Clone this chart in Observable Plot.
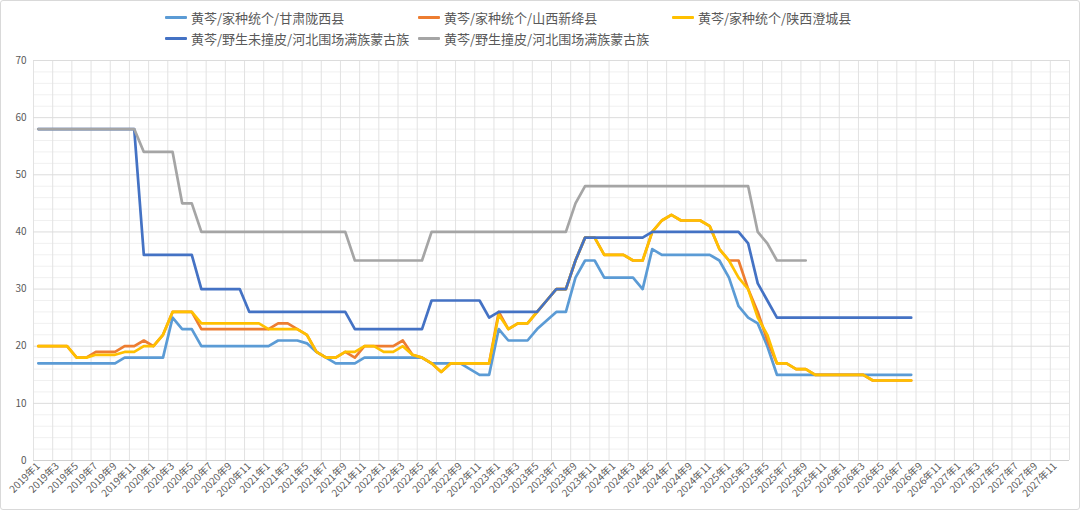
<!DOCTYPE html>
<html><head><meta charset="utf-8">
<script src="https://cdn.jsdelivr.net/npm/d3@7"></script>
<script src="https://cdn.jsdelivr.net/npm/@observablehq/plot@0.6"></script>
<style>
body{margin:0;background:#fff;font-family:"Noto Sans CJK SC","Noto Sans",sans-serif;}
#wrap{position:relative;width:1080px;height:510px;overflow:hidden;background:#fff;}
#legend{position:relative;height:52px;}
.item{position:absolute;display:flex;align-items:center;font-size:13px;color:#595959;white-space:nowrap;height:18px;}
.sw{width:22px;height:3px;margin-right:4px;border-radius:1px;}
#frame{position:absolute;left:0;top:0;width:1078px;height:508px;border:1px solid #d9d9d9;border-radius:3px;pointer-events:none;}
#chart svg{display:block;}
</style></head>
<body><div id="wrap"><div id="legend"></div><div id="chart"></div><div id="frame"></div></div>
<script>
// tick labels (every other month, 2019-01 .. 2027-11)
const tickLabels = [
"2019年1","2019年3","2019年5","2019年7","2019年9","2019年11",
"2020年1","2020年3","2020年5","2020年7","2020年9","2020年11",
"2021年1","2021年3","2021年5","2021年7","2021年9","2021年11",
"2022年1","2022年3","2022年5","2022年7","2022年9","2022年11",
"2023年1","2023年3","2023年5","2023年7","2023年9","2023年11",
"2024年1","2024年3","2024年5","2024年7","2024年9","2024年11",
"2025年1","2025年3","2025年5","2025年7","2025年9","2025年11",
"2026年1","2026年3","2026年5","2026年7","2026年9","2026年11",
"2027年1","2027年3","2027年5","2027年7","2027年9","2027年11"];
const monthCount = 108;

const seriesNames = [
"黄芩/家种统个/甘肃陇西县",
"黄芩/家种统个/山西新绛县",
"黄芩/家种统个/陕西澄城县",
"黄芩/野生未撞皮/河北围场满族蒙古族",
"黄芩/野生撞皮/河北围场满族蒙古族"];
const seriesColors = ["#5B9BD5","#ED7D31","#FFC000","#4472C4","#A5A5A5"];

// monthly values starting 2019-01
const gansu = [17,17,17,17,17,17,17,17,17,18,18,18,18,18,25,23,23,20,20,20,20,20,20,20,20,21,21,21,20.5,19,18,17,17,17,18,18,18,18,18,18,18,17,17,17,17,16,15,15,23,21,21,21,23,24.5,26,26,32,35,35,32,32,32,32,30,37,36,36,36,36,36,36,35,32,27,25,24,20,15,15,15,15,15,15,15,15,15,15,15,15,15,15,15];
const shanxi = [20,20,20,20,18,18,19,19,19,20,20,21,20,22,26,26,26,23,23,23,23,23,23,23,23,24,24,23,22,19,18,18,19,18,20,20,20,20,21,18.5,18,17,15.5,17,17,17,17,17,26,23,24,24,26,28,30,30,35,39,39,36,36,36,35,35,40,42,43,42,42,42,41,37,35,35,30,26,21,17,17,16,16,15,15,15,15,15,15,14,14,14,14,14];
const shaanxi = [20,20,20,20,18,18,18.5,18.5,18.5,19,19,20,20,22,26,26,26,24,24,24,24,24,24,24,23,23,23,23,22,19,18,18,19,19,20,20,19,19,20,18.5,18,17,15.5,17,17,17,17,17,25.5,23,24,24,26,28,30,30,35,39,39,36,36,36,35,35,40,42,43,42,42,42,41,37,35,32,30,25,22,17,17,16,16,15,15,15,15,15,15,14,14,14,14,14];
const wildRaw = [58,58,58,58,58,58,58,58,58,58,58,36,36,36,36,36,36,30,30,30,30,30,26,26,26,26,26,26,26,26,26,26,26,23,23,23,23,23,23,23,23,28,28,28,28,28,28,25,26,26,26,26,26,28,30,30,35,39,39,39,39,39,39,39,40,40,40,40,40,40,40,40,40,40,38,31,28,25,25,25,25,25,25,25,25,25,25,25,25,25,25,25];
const wildPeeled = [58,58,58,58,58,58,58,58,58,58,58,54,54,54,54,45,45,40,40,40,40,40,40,40,40,40,40,40,40,40,40,40,40,35,35,35,35,35,35,35,35,40,40,40,40,40,40,40,40,40,40,40,40,40,40,40,45,48,48,48,48,48,48,48,48,48,48,48,48,48,48,48,48,48,48,40,38,35,35,35,35];

const yTicks = [0,10,20,30,40,50,60,70];
const yMinor = [2,4,6,8,12,14,16,18,22,24,26,28,32,34,36,38,42,44,46,48,52,54,56,58,62,64,66,68];

const allSeries = [gansu, shanxi, shaanxi, wildRaw, wildPeeled];

// legend
const legend = document.getElementById("legend");
const legPos = [[165,8],[418,8],[672,8],[165,29],[418,29]];
seriesNames.forEach((n,k)=>{
  const d = document.createElement("div");
  d.className = "item";
  d.style.left = legPos[k][0] + "px";
  d.style.top = legPos[k][1] + "px";
  d.innerHTML = `<span class="sw" style="background:${seriesColors[k]}"></span><span>${n}</span>`;
  legend.appendChild(d);
});

const tickIdx = tickLabels.map((_, k) => k * 2);
const vGrid = d3.range(-0.5, monthCount, 2);

const lineMarks = allSeries.map((arr, k) =>
  Plot.line(arr.map((v, i) => ({i, v})), {x: "i", y: "v", stroke: seriesColors[k], strokeWidth: 2.7, strokeLinejoin: "round", strokeLinecap: "round"})
);

const chart = Plot.plot({
  width: 1080, height: 458,
  marginTop: 8, marginBottom: 50, marginLeft: 33, marginRight: 11,
  style: {fontFamily: '"Noto Sans CJK SC","Noto Sans",sans-serif', background: "transparent"},
  x: {type: "linear", domain: [-0.5, monthCount - 0.5]},
  y: {domain: [0, 70]},
  marks: [
    Plot.ruleY(yMinor, {y: d => d, stroke: "#f0f0f0", strokeWidth: 1}),
    Plot.ruleX(vGrid, {x: d => d, stroke: "#e2e2e2", strokeWidth: 1}),
    Plot.ruleY(yTicks, {y: d => d, stroke: "#dcdcdc", strokeWidth: 1}),
    Plot.ruleY([0], {stroke: "#d0d0d0", strokeWidth: 1}),
    ...lineMarks,
    Plot.axisY({ticks: yTicks, tickSize: 0, tickPadding: 7, fontSize: 10, fill: "#595959", label: null}),
    Plot.axisX({ticks: tickIdx, tickFormat: i => tickLabels[i / 2], tickRotate: -45, tickSize: 0, tickPadding: 4, fontSize: 10, fill: "#595959", label: null})
  ]
});
document.getElementById("chart").appendChild(chart);
</script>
</body></html>
